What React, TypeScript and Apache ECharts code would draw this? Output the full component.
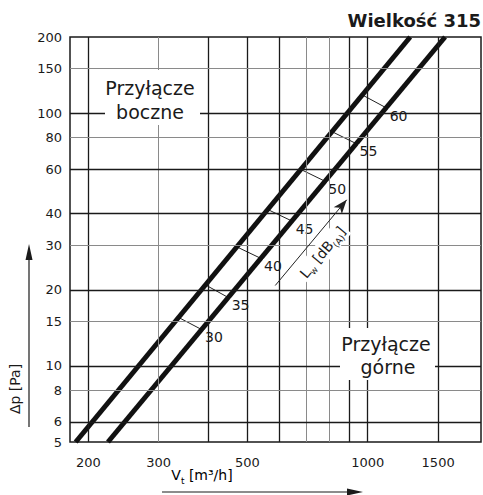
import React, { useEffect, useRef } from 'react';
import * as echarts from 'echarts';

const FONT = '"DejaVu Sans", "Liberation Sans", sans-serif';

// axis tick labels
const xTickLabels = [200, 300, 500, 1000, 1500];
const yTickLabels = [5, 6, 8, 10, 15, 20, 30, 40, 60, 80, 100, 150, 200];
// grid lines
const xGridDark = [200, 400, 500, 600, 900, 1000, 1500];
const xGridLight = [300, 700, 800];
const yGridDark = [6, 10, 20, 40, 60, 100];
const yGridLight = [8, 15, 30, 80, 150];

// thick characteristic lines: V [m3/h] vs Δp [Pa]
const sideV = [186, 1277];
const sideP = [5, 200];
const topV = [224, 1561];
const topP = [5, 200];

// sound power level ticks between the two lines
const dbLevels = [30, 35, 40, 45, 50, 55, 60];
const dbStartV = [335, 393, 472, 565, 684, 817, 974];
const dbStartP = [15.6, 20.9, 29.5, 41.4, 59.6, 84.2, 117.5];
const dbEndV = [385, 449, 541, 649, 783, 938, 1115];
const dbEndP = [13.9, 18.6, 26.6, 37.3, 53.7, 75.6, 104.7];

// L_w arrow
const lwArrowV = [587, 886];
const lwArrowP = [20.8, 45.4];

const DARK = '#1a1a1a';
const LIGHT = '#8a8a8a';

export default function App() {
  const ref = useRef<HTMLDivElement>(null);
  useEffect(() => {
    if (!ref.current) return;
    const chart = echarts.init(ref.current, undefined, { renderer: 'svg' });

    const gridLines = [
      ...xGridDark.map((v) => ({ xAxis: v, lineStyle: { color: DARK, width: 1.3, type: 'solid' } })),
      ...xGridLight.map((v) => ({ xAxis: v, lineStyle: { color: LIGHT, width: 1, type: 'solid' } })),
      ...yGridDark.map((v) => ({ yAxis: v, lineStyle: { color: DARK, width: 1.3, type: 'solid' } })),
      ...yGridLight.map((v) => ({ yAxis: v, lineStyle: { color: LIGHT, width: 1, type: 'solid' } })),
    ];

    const subRich = {
      a: { fontSize: 14, fontFamily: FONT, color: '#1a1a1a', lineHeight: 20, verticalAlign: 'middle' },
      s: { fontSize: 9, fontFamily: FONT, color: '#1a1a1a', lineHeight: 20, verticalAlign: 'bottom' },
    };

    const option: any = {
      animation: false,
      backgroundColor: '#fff',
      grid: {
        left: 70, top: 37, width: 411, height: 405,
        show: true, borderColor: DARK, borderWidth: 1.5, backgroundColor: 'transparent',
      },
      xAxis: {
        type: 'log', logBase: 10, min: 180, max: 1920,
        axisLine: { show: false }, axisTick: { show: false }, splitLine: { show: false },
        axisLabel: {
          customValues: xTickLabels, fontSize: 13, color: '#1a1a1a', fontFamily: FONT, margin: 14,
          formatter: (v: number) => String(Math.round(v)),
        },
      },
      yAxis: {
        type: 'log', logBase: 10, min: 5, max: 200,
        axisLine: { show: false }, axisTick: { show: false }, splitLine: { show: false },
        axisLabel: {
          customValues: yTickLabels, fontSize: 13, color: '#1a1a1a', fontFamily: FONT, margin: 8,
          formatter: (v: number) => String(Math.round(v)),
        },
      },
      series: [
        {
          type: 'line', data: [], z: 1, silent: true,
          markLine: { silent: true, symbol: 'none', label: { show: false }, data: gridLines, animation: false },
        },
        {
          type: 'lines', coordinateSystem: 'cartesian2d', z: 2, silent: true,
          lineStyle: { color: '#222', width: 1, opacity: 1 },
          data: dbLevels.map((_, i) => ({ coords: [[dbStartV[i], dbStartP[i]], [dbEndV[i], dbEndP[i]]] })),
        },
        {
          type: 'line', z: 3, silent: true, symbol: 'none',
          lineStyle: { color: '#111', width: 5 },
          data: sideV.map((v, i) => [v, sideP[i]]),
        },
        {
          type: 'line', z: 3, silent: true, symbol: 'none',
          lineStyle: { color: '#111', width: 5 },
          data: topV.map((v, i) => [v, topP[i]]),
        },
        {
          type: 'scatter', z: 4, silent: true, symbolSize: 0,
          itemStyle: { color: '#1a1a1a' },
          data: dbLevels.map((d, i) => [dbEndV[i], dbEndP[i], d]),
          label: {
            show: true, position: 'right', distance: 0, offset: [2, 7.5],
            formatter: (p: any) => String(p.value[2]),
            fontSize: 14, fontFamily: FONT, color: '#1a1a1a', opacity: 1,
            backgroundColor: '#fff', padding: [0, 1],
          },
          markLine: {
            silent: true,
            symbol: ['none', 'arrow'],
            symbolSize: [8, 14],
            lineStyle: { color: '#222', width: 1, type: 'solid' },
            label: {
              show: true, position: 'insideMiddleBottom',
              formatter: '{a|L}{s|w}{a| [dB}{s|(A)}{a|]}',
              rich: subRich, backgroundColor: '#fff', padding: [0, 2],
            },
            data: [[{ coord: [lwArrowV[0], lwArrowP[0]] }, { coord: [lwArrowV[1], lwArrowP[1]] }]],
          },
        },
      ],
      graphic: [
        { type: 'text', right: 2, top: 11, z: 20,
          style: { text: 'Wielkość 315', font: `bold 18px ${FONT}`, fill: '#1a1a1a' } },
        { type: 'rect', shape: { x: 105, y: 70, width: 95, height: 55 }, style: { fill: '#fff' }, z: 10 },
        { type: 'text', x: 150, y: 88, z: 11,
          style: { text: 'Przyłącze', font: `19px ${FONT}`, fill: '#1a1a1a', align: 'center', verticalAlign: 'middle', textAlign: 'center', textVerticalAlign: 'middle' } },
        { type: 'text', x: 150, y: 112, z: 11,
          style: { text: 'boczne', font: `19px ${FONT}`, fill: '#1a1a1a', align: 'center', verticalAlign: 'middle', textAlign: 'center', textVerticalAlign: 'middle' } },
        { type: 'rect', shape: { x: 340, y: 328, width: 95, height: 52 }, style: { fill: '#fff' }, z: 10 },
        { type: 'text', x: 386, y: 344, z: 11,
          style: { text: 'Przyłącze', font: `19px ${FONT}`, fill: '#1a1a1a', align: 'center', verticalAlign: 'middle', textAlign: 'center', textVerticalAlign: 'middle' } },
        { type: 'text', x: 388, y: 367, z: 11,
          style: { text: 'górne', font: `19px ${FONT}`, fill: '#1a1a1a', align: 'center', verticalAlign: 'middle', textAlign: 'center', textVerticalAlign: 'middle' } },
        // y axis name + arrow
        { type: 'line', shape: { x1: 29, y1: 427, x2: 29, y2: 256 }, style: { stroke: '#1a1a1a', lineWidth: 1.2 }, z: 10 },
        { type: 'polygon', shape: { points: [[29, 244], [25.5, 260], [32.5, 260]] }, style: { fill: '#1a1a1a' }, z: 10 },
        { type: 'text', x: 15, y: 389, rotation: Math.PI / 2, z: 10,
          style: { text: 'Δp [Pa]', font: `14px ${FONT}`, fill: '#1a1a1a', align: 'center', verticalAlign: 'middle', textAlign: 'center', textVerticalAlign: 'middle' } },
        // x axis name + arrow
        { type: 'line', shape: { x1: 162, y1: 492, x2: 350, y2: 492 }, style: { stroke: '#1a1a1a', lineWidth: 1.2 }, z: 10 },
        { type: 'polygon', shape: { points: [[363, 492], [347, 488.5], [347, 495.5]] }, style: { fill: '#1a1a1a' }, z: 10 },
        { type: 'text', x: 202, y: 475, z: 10,
          style: {
            text: '{a|V}{s|t}{a| [m³/h]}', rich: subRich,
            align: 'center', verticalAlign: 'middle', textAlign: 'center', textVerticalAlign: 'middle',
          } },
      ],
    };
    chart.setOption(option);
    return () => chart.dispose();
  }, []);
  return <div ref={ref} style={{ position: 'absolute', left: 0, top: 0, width: 483, height: 495 }} />;
}
